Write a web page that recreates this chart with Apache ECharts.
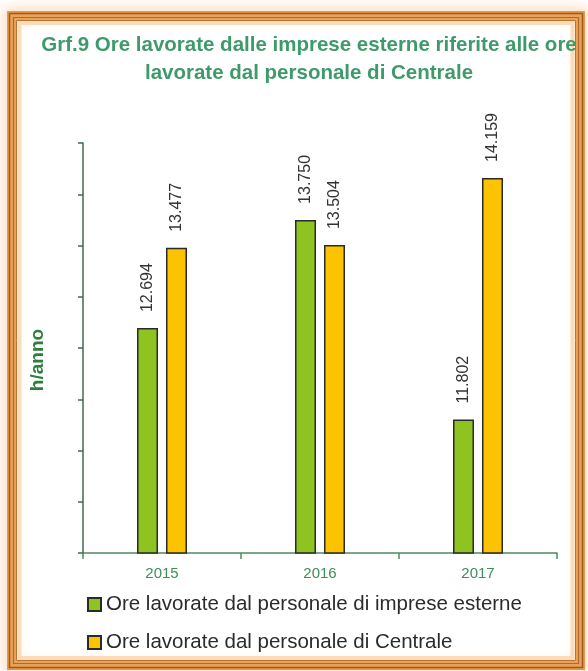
<!DOCTYPE html>
<html>
<head>
<meta charset="utf-8">
<title>Grf.9 Ore lavorate</title>
<script src="https://cdn.jsdelivr.net/npm/echarts@6/dist/echarts.min.js"></script>
<style>
  html, body { margin: 0; padding: 0; background: #ffffff; }
  #chart { width: 588px; height: 671px; }
</style>
</head>
<body>
<div id="chart"></div>
<script>
// Anni di riferimento
const years = ['2015', '2016', '2017'];
// Ore lavorate (h/anno)
const oreImpreseEsterne = [12694, 13750, 11802];
const oreCentrale = [13477, 13504, 14159];
// Scala asse verticale
const yMin = 10500;
const yMax = 14500;
const yStep = 500;

const seriesNames = [
  'Ore lavorate dal personale di imprese esterne',
  'Ore lavorate dal personale di Centrale'
];

const FONT = '"Liberation Sans", Arial, sans-serif';

// formato italiano con punto come separatore delle migliaia
function fmt(v) {
  return String(v).replace(/\B(?=(\d{3})+(?!\d))/g, '.');
}

const chart = echarts.init(document.getElementById('chart'), null, { renderer: 'canvas' });

const barLabel = {
  show: true,
  position: 'top',
  rotate: 90,
  align: 'left',
  verticalAlign: 'middle',
  distance: 16,
  color: '#333333',
  fontFamily: FONT,
  fontSize: 16,
  formatter: p => fmt(p.value)
};

const option = {
  backgroundColor: '#ffffff',
  animation: false,
  textStyle: { fontFamily: FONT },
  title: {
    text: 'Grf.9 Ore lavorate dalle imprese esterne riferite alle ore\nlavorate dal personale di Centrale',
    left: 304,
    top: 26,
    textAlign: 'center',
    textStyle: {
      fontFamily: FONT,
      fontSize: 20.5,
      fontWeight: 'bold',
      color: '#3f9a6b',
      lineHeight: 28
    }
  },
  graphic: [
    // cornice esterna con alone arancio
    {
      type: 'rect', z: -10, silent: true,
      shape: { x: 9, y: 13, width: 574, height: 655 },
      style: { fill: 'none', stroke: '#e89a4c', lineWidth: 4, shadowBlur: 14, shadowColor: 'rgba(245,150,60,0.9)' }
    },
    {
      type: 'rect', z: -9, silent: true,
      shape: { x: 12.5, y: 16.5, width: 567, height: 648 },
      style: { fill: 'none', stroke: '#e9a257', lineWidth: 7 }
    },
    {
      type: 'rect', z: -8, silent: true,
      shape: { x: 9.5, y: 13.5, width: 573, height: 654 },
      style: { fill: 'none', stroke: '#9a5a22', lineWidth: 1.5 }
    },
    {
      type: 'rect', z: -8, silent: true,
      shape: { x: 13.5, y: 17.5, width: 565, height: 646 },
      style: { fill: 'none', stroke: '#b06a2c', lineWidth: 1.2 }
    },
    {
      type: 'rect', z: -8, silent: true,
      shape: { x: 16.5, y: 20.5, width: 559, height: 640 },
      style: { fill: 'none', stroke: '#b87434', lineWidth: 1 }
    },
    // alone interno chiaro
    {
      type: 'rect', z: -7, silent: true,
      shape: { x: 19.5, y: 23, width: 553, height: 635 },
      style: { fill: 'none', stroke: '#fcdcb8', lineWidth: 4 }
    }
  ],
  legend: {
    orient: 'vertical',
    left: 87,
    top: 594,
    padding: 0,
    itemWidth: 13,
    itemHeight: 13,
    itemGap: 17,
    icon: 'rect',
    textStyle: { fontFamily: FONT, fontSize: 20.5, color: '#2b2b2b' },
    data: seriesNames
  },
  grid: {
    left: 83,
    right: 31,
    top: 143,
    bottom: 118,
    containLabel: false
  },
  xAxis: {
    type: 'category',
    data: years,
    axisLine: { lineStyle: { color: '#4f8a5e', width: 1.5 } },
    axisTick: { show: true, length: 6, lineStyle: { color: '#4f8a5e', width: 1.5 } },
    axisLabel: { color: '#3f8d58', fontFamily: FONT, fontSize: 15, margin: 13 }
  },
  yAxis: {
    type: 'value',
    min: yMin,
    max: yMax,
    interval: yStep,
    name: 'h/anno',
    nameLocation: 'middle',
    nameGap: 36,
    nameRotate: 90,
    nameTextStyle: { fontFamily: FONT, fontSize: 19, fontWeight: 'bold', color: '#2e7f3c', padding: [0, 24, 0, 0] },
    axisLine: { show: true, lineStyle: { color: '#3e6b52', width: 1.5 } },
    axisTick: { show: true, length: 5, lineStyle: { color: '#3e6b52', width: 1.5 } },
    axisLabel: { show: false },
    splitLine: { show: false }
  },
  series: [
    {
      name: seriesNames[0],
      type: 'bar',
      data: oreImpreseEsterne,
      barWidth: 21,
      barGap: '38%',
      itemStyle: { color: '#8fc31f', borderColor: '#2a2a2a', borderWidth: 1.5 },
      label: barLabel
    },
    {
      name: seriesNames[1],
      type: 'bar',
      data: oreCentrale,
      barWidth: 21,
      itemStyle: { color: '#fcc300', borderColor: '#2a2a2a', borderWidth: 1.5 },
      label: barLabel
    }
  ]
};

chart.setOption(option);
</script>
</body>
</html>
